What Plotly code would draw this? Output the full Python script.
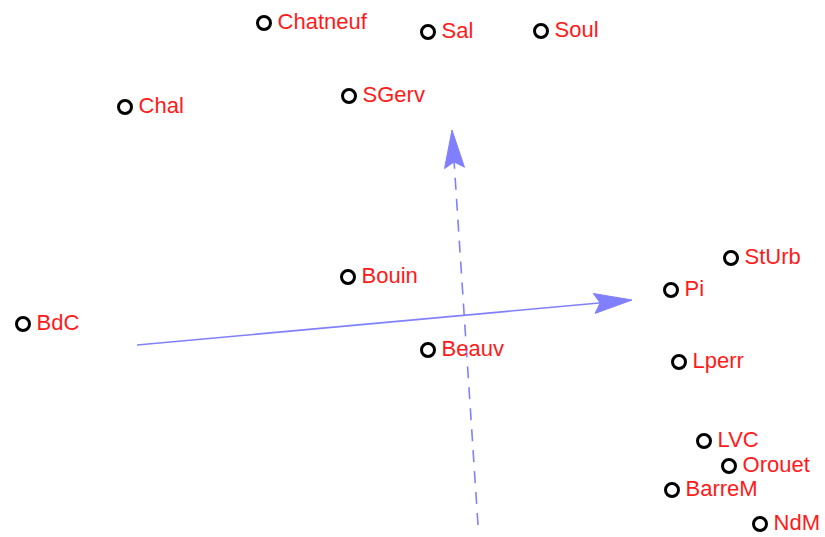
import numpy as np
import plotly.graph_objects as go

# site scores (axis 1, axis 2)
sites = ["Chatneuf", "Sal", "Soul", "Chal", "SGerv", "Bouin", "BdC", "Beauv",
         "StUrb", "Pi", "Lperr", "LVC", "Orouet", "BarreM", "NdM"]
score1 = [-1.86, -0.22, 0.91, -3.25, -1.01, -1.02, -4.27, -0.22,
          2.81, 2.21, 2.29, 2.54, 2.79, 2.22, 3.10]
score2 = [2.77, 2.68, 2.69, 1.93, 2.04, 0.23, -0.24, -0.50,
          0.42, 0.10, -0.62, -1.41, -1.66, -1.90, -2.24]

# arrows: start and end
arrow_solid = [(-3.13, -0.45), (1.82, 0.00)]
arrow_dashed = [(0.28, -2.25), (0.02, 1.70)]

arrow_col = "#8080ff"


def head(p0, p1, length=0.38, half=0.10, notch=0.06):
    p0 = np.array(p0); p1 = np.array(p1)
    d = (p1 - p0) / np.linalg.norm(p1 - p0)
    n = np.array([-d[1], d[0]])
    base = p1 - d * length
    pts = [p1, base + n * half, p1 - d * (length - notch), base - n * half, p1]
    return [p[0] for p in pts], [p[1] for p in pts]


fig = go.Figure()

for (p0, p1), dash in [(arrow_solid, "solid"), (arrow_dashed, "12px,9px")]:
    fig.add_trace(go.Scatter(x=[p0[0], p1[0] - (p1[0]-p0[0])*0.05], y=[p0[1], p1[1] - (p1[1]-p0[1])*0.05],
                             mode="lines", line=dict(color=arrow_col, width=1.6, dash=dash),
                             hoverinfo="skip"))
    hx, hy = head(p0, p1)
    fig.add_trace(go.Scatter(x=hx, y=hy, mode="lines", fill="toself", fillcolor=arrow_col,
                             line=dict(color=arrow_col, width=1), hoverinfo="skip"))

fig.add_trace(go.Scatter(x=score1, y=score2, mode="markers+text",
                         text=["\u2009" + s for s in sites],
                         textposition="middle right", cliponaxis=False,
                         textfont=dict(family="Liberation Sans", size=22, color="#ff1a1a"),
                         marker=dict(symbol="circle-open", size=13, color="black",
                                     line=dict(width=3, color="black"))))

fig.update_xaxes(range=[-4.5, 3.75], visible=False)
fig.update_yaxes(range=[-2.37, 3.0], visible=False)
fig.update_layout(width=825, height=537, margin=dict(l=0, r=0, t=0, b=0),
                  showlegend=False, plot_bgcolor="white", paper_bgcolor="white")

# drop the default body margin so the figure fills the window
fig.write_html("out.html", config={"displayModeBar": False},
               post_script="document.body.style.margin='0';document.body.style.overflow='hidden';")
